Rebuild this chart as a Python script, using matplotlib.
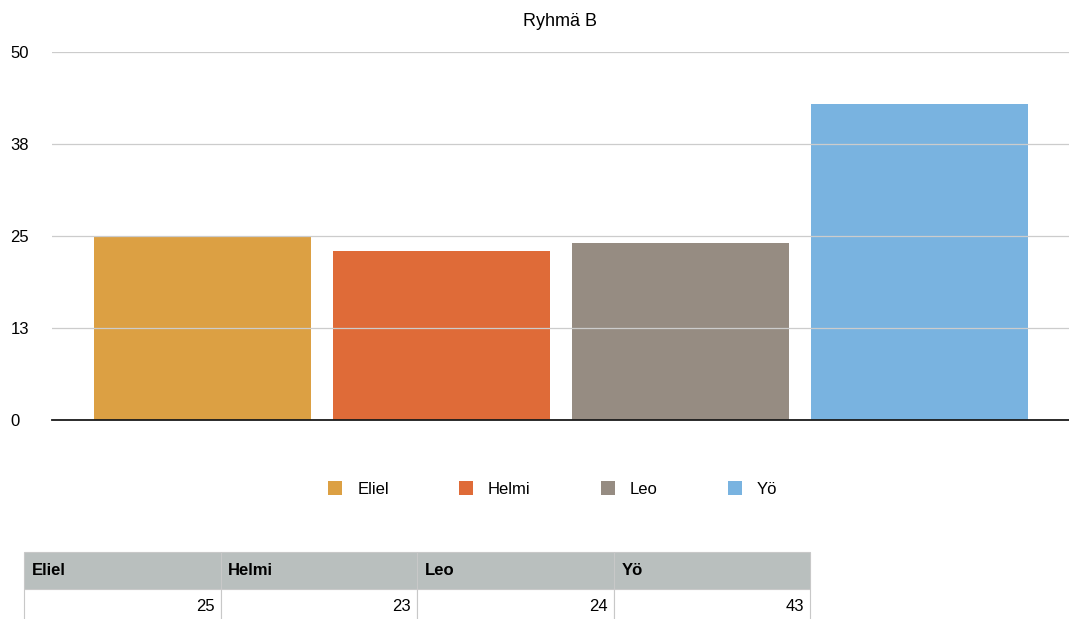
import numpy as np
import matplotlib.pyplot as plt
from matplotlib.patches import Patch

plt.rcParams['font.family'] = ['Liberation Sans', 'DejaVu Sans']

# data
names = ['Eliel', 'Helmi', 'Leo', 'Yö']
values = [25, 23, 24, 43]
colors = ['#dca043', '#df6b38', '#968c82', '#79b3e0']
yticks = [0, 12.5, 25, 37.5, 50]
ytick_labels = ['0', '13', '25', '38', '50']

fig = plt.figure(figsize=(10.69, 6.19), dpi=100)
ax = fig.add_axes([0.0486, 0.3215, 0.9514, 0.5945])

x = np.arange(len(names))
ax.bar(x, values, width=0.908, color=colors, zorder=2)
ax.set_yticks(yticks)
ax.set_yticklabels(ytick_labels, fontsize=12)
ax.set_ylim(0, 50)
ax.set_xlim(-0.632, 3.626)
ax.set_xticks([])
ax.yaxis.grid(True, color='#cccccc', linewidth=0.9, zorder=3)
ax.set_axisbelow(False)
for s in ['top', 'right', 'left']:
    ax.spines[s].set_visible(False)
ax.spines['bottom'].set_color('#1a1a1a')
ax.spines['bottom'].set_linewidth(1.3)
ax.spines['bottom'].set_zorder(4)
for lab in ax.get_yticklabels():
    lab.set_horizontalalignment('left')
ax.tick_params(axis='y', length=0, pad=30)
ax.set_title('Ryhmä B', fontsize=13, pad=19)

handles = [Patch(facecolor=c, label=n) for c, n in zip(colors, names)]
fig.legend(handles=handles, loc='center', bbox_to_anchor=(0.517, 1 - 489 / 619), ncol=4,
           frameon=False, fontsize=12, handlelength=0.85, handleheight=0.85,
           handletextpad=0.9, columnspacing=4.2)

# table below the chart
tax = fig.add_axes([24 / 1069, -0.01, 786 / 1069, 1 - 552 / 619 + 0.01])
tax.axis('off')
tbl = tax.table(cellText=[[str(v) for v in values]], colLabels=names,
                cellLoc='right', colLoc='left', bbox=[0, 0, 1, 1])
tbl.auto_set_font_size(False)
for (r, c), cell in tbl.get_celld().items():
    cell.set_edgecolor('#c8c8c8')
    cell.set_linewidth(0.8)
    cell.set_fontsize(12)
    if r == 0:
        cell.set_facecolor('#b9bfbe')
        cell.get_text().set_fontweight('bold')
        cell.PAD = 0.04
    else:
        cell.PAD = 0.03

fig.savefig('out.png', dpi=100)
